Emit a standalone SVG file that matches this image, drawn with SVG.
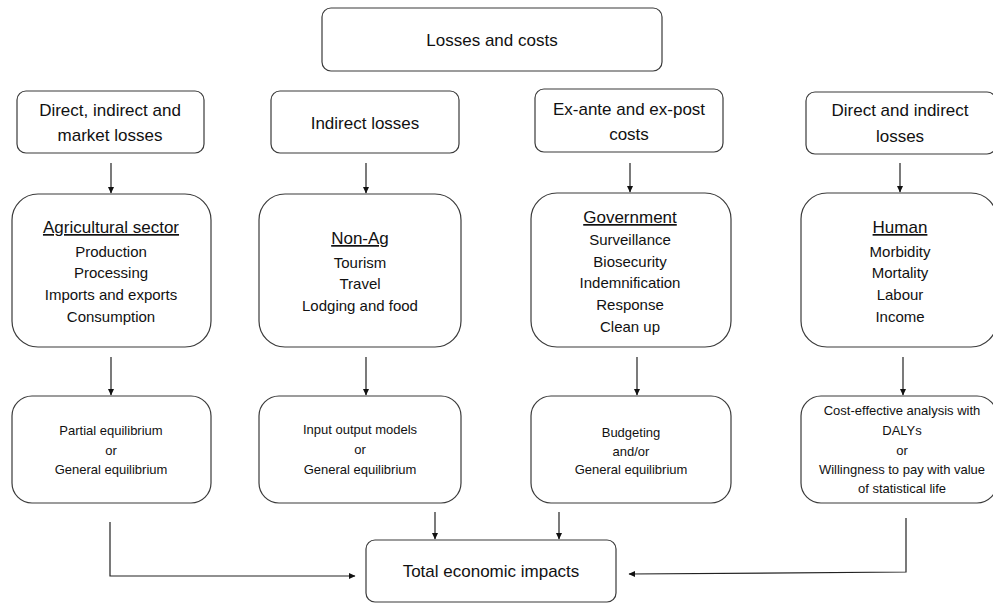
<svg xmlns="http://www.w3.org/2000/svg" width="993" height="603" viewBox="0 0 993 603">
<style>
.box{fill:#fff;stroke:#3a3a3a;stroke-width:1.2}
text{font-family:"Liberation Sans",Arial,sans-serif;fill:#111;text-anchor:middle}
.h{font-size:17px}
.t{font-size:17px;text-decoration:underline}
.i{font-size:15px}
.s{font-size:13px}
.c{fill:none;stroke:#222;stroke-width:1.2}
</style>
<defs>
<marker id="ah" markerWidth="7" markerHeight="7" refX="6" refY="3.5" orient="auto" markerUnits="userSpaceOnUse">
<path d="M0,0.5 L6.5,3.5 L0,6.5 Z" fill="#111"/>
</marker>
</defs>
<rect width="993" height="603" fill="#fff"/>
<g id="top">
<rect class="box" x="322" y="8" width="340" height="63" rx="9"/>
<text class="h" x="492" y="46">Losses and costs</text>
</g>
<g id="l1a">
<rect class="box" x="17" y="91" width="187" height="62" rx="9"/>
<text class="h" x="110" y="116">Direct, indirect and</text>
<text class="h" x="110" y="141">market losses</text>
</g>
<g id="l1b">
<rect class="box" x="271" y="91" width="188" height="62" rx="9"/>
<text class="h" x="365" y="129">Indirect losses</text>
</g>
<g id="l1c">
<rect class="box" x="535" y="89" width="188" height="63" rx="9"/>
<text class="h" x="629" y="115">Ex-ante and ex-post</text>
<text class="h" x="629" y="140">costs</text>
</g>
<g id="l1d">
<rect class="box" x="806" y="92" width="190" height="62" rx="9"/>
<text class="h" x="900" y="116">Direct and indirect</text>
<text class="h" x="900" y="142">losses</text>
</g>
<g id="l2a">
<rect class="box" x="12" y="194" width="199" height="153" rx="26"/>
<text class="t" x="111" y="233">Agricultural sector</text>
<text class="i" x="111" y="257">Production</text>
<text class="i" x="111" y="278">Processing</text>
<text class="i" x="111" y="300">Imports and exports</text>
<text class="i" x="111" y="322">Consumption</text>
</g>
<g id="l2b">
<rect class="box" x="259" y="194" width="202" height="153" rx="26"/>
<text class="t" x="360" y="244">Non-Ag</text>
<text class="i" x="360" y="268">Tourism</text>
<text class="i" x="360" y="289">Travel</text>
<text class="i" x="360" y="311">Lodging and food</text>
</g>
<g id="l2c">
<rect class="box" x="531" y="193" width="200" height="154" rx="26"/>
<text class="t" x="630" y="223">Government</text>
<text class="i" x="630" y="245">Surveillance</text>
<text class="i" x="630" y="267">Biosecurity</text>
<text class="i" x="630" y="288">Indemnification</text>
<text class="i" x="630" y="310">Response</text>
<text class="i" x="630" y="332">Clean up</text>
</g>
<g id="l2d">
<rect class="box" x="801" y="193" width="196" height="154" rx="26"/>
<text class="t" x="900" y="233">Human</text>
<text class="i" x="900" y="257">Morbidity</text>
<text class="i" x="900" y="278">Mortality</text>
<text class="i" x="900" y="300">Labour</text>
<text class="i" x="900" y="322">Income</text>
</g>
<g id="l3a">
<rect class="box" x="12" y="396" width="199" height="107" rx="20"/>
<text class="s" x="111" y="435">Partial equilibrium</text>
<text class="s" x="111" y="455">or</text>
<text class="s" x="111" y="474">General equilibrium</text>
</g>
<g id="l3b">
<rect class="box" x="259" y="396" width="202" height="107" rx="20"/>
<text class="s" x="360" y="434">Input output models</text>
<text class="s" x="360" y="454">or</text>
<text class="s" x="360" y="474">General equilibrium</text>
</g>
<g id="l3c">
<rect class="box" x="531" y="396" width="200" height="107" rx="20"/>
<text class="s" x="631" y="437">Budgeting</text>
<text class="s" x="631" y="456">and/or</text>
<text class="s" x="631" y="474">General equilibrium</text>
</g>
<g id="l3d">
<rect class="box" x="801" y="396" width="196" height="107" rx="20"/>
<text class="s" x="902" y="415">Cost-effective analysis with</text>
<text class="s" x="902" y="435">DALYs</text>
<text class="s" x="902" y="455">or</text>
<text class="s" x="902" y="474">Willingness to pay with value</text>
<text class="s" x="902" y="493">of statistical life</text>
</g>
<g id="total">
<rect class="box" x="366" y="540" width="250" height="62" rx="9"/>
<text class="h" x="491" y="577">Total economic impacts</text>
</g>
<g id="connectors">
<line class="c" x1="111" y1="163" x2="111" y2="193" marker-end="url(#ah)"/>
<line class="c" x1="366" y1="163" x2="366" y2="193" marker-end="url(#ah)"/>
<line class="c" x1="630" y1="163" x2="630" y2="192" marker-end="url(#ah)"/>
<line class="c" x1="900" y1="163" x2="900" y2="192" marker-end="url(#ah)"/>
<line class="c" x1="111" y1="357" x2="111" y2="395" marker-end="url(#ah)"/>
<line class="c" x1="366" y1="357" x2="366" y2="395" marker-end="url(#ah)"/>
<line class="c" x1="637" y1="357" x2="637" y2="395" marker-end="url(#ah)"/>
<line class="c" x1="903" y1="357" x2="903" y2="395" marker-end="url(#ah)"/>
<line class="c" x1="435" y1="512" x2="435" y2="539" marker-end="url(#ah)"/>
<line class="c" x1="559" y1="512" x2="559" y2="539" marker-end="url(#ah)"/>
<polyline class="c" points="110,522 110,576 355,576" marker-end="url(#ah)"/>
<polyline class="c" points="906,518 906,572 629,574" marker-end="url(#ah)"/>
</g>
</svg>
